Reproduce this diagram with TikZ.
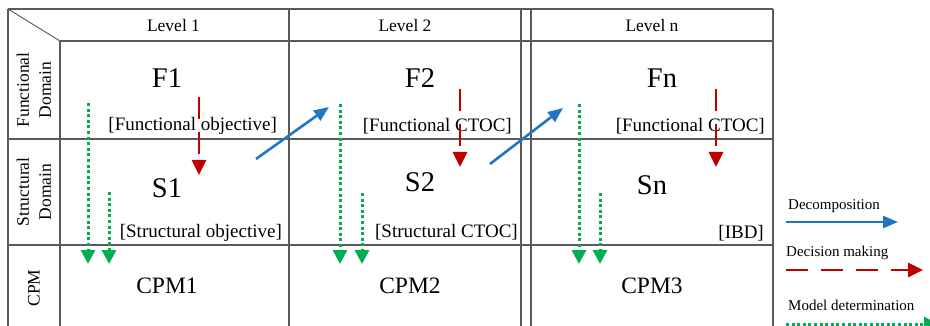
\documentclass[tikz,border=0pt]{standalone}
\usepackage{fontspec}
\setmainfont{Liberation Serif}
\usetikzlibrary{arrows.meta}
\definecolor{dblue}{HTML}{1F77C4}
\definecolor{dred}{HTML}{C00000}
\definecolor{dgreen}{HTML}{00B050}
\definecolor{gridc}{HTML}{5A5A5A}
\begin{document}
\begin{tikzpicture}[x=1pt,y=-1pt,
  gridline/.style={draw=gridc,line width=1.3pt},
  thinline/.style={draw=gridc,line width=0.9pt},
  lvl/.style={font=\fontsize{17.5}{20}\selectfont,anchor=base},
  side/.style={font=\fontsize{17.5}{22}\selectfont,rotate=90,align=center,inner sep=0pt},
  big/.style={font=\fontsize{28.5}{30}\selectfont,anchor=base},
  cpm/.style={font=\fontsize{23.5}{26}\selectfont,anchor=base},
  brk/.style={font=\fontsize{19}{22}\selectfont,anchor=base east,inner sep=0pt},
  leg/.style={font=\fontsize{15}{18}\selectfont,anchor=base west,inner sep=0pt},
  decomp/.style={draw=dblue,line width=2.6pt,-{Triangle[length=15pt,width=12pt]}},
  decis/.style={draw=dred,line width=2.6pt,dash pattern=on 22pt off 13pt,-{Triangle[length=15pt,width=14pt]}},
  modl/.style={draw=dgreen,line width=3pt,dash pattern=on 3pt off 2.6pt,-{Triangle[length=14pt,width=14pt]}}]
\useasboundingbox (0,0) rectangle (930,326);

% grid
\draw[gridline] (8,9) -- (773,9);
\draw[gridline] (60,41) -- (773,41);
\draw[gridline] (8,139) -- (773,139);
\draw[gridline] (8,245) -- (773,245);
\draw[gridline] (8,9) -- (8,330);
\draw[gridline] (60,41) -- (60,330);
\draw[gridline] (289,9) -- (289,330);
\draw[gridline] (521,9) -- (521,330);
\draw[gridline] (531,9) -- (531,330);
\draw[gridline] (773,9) -- (773,330);
\draw[thinline] (8,9) -- (60,41);

% headers
\node[lvl] (l1) at (173.5,32) {Level 1};
\node[lvl] (l2) at (405,32) {Level 2};
\node[lvl] (ln) at (652,32) {Level n};

\node[side] (fd) at (34,90) {Functional\\Domain};
\node[side] (sd) at (34,192) {Structural\\Domain};
\node[side] (cd) at (34,288) {CPM};

% cells
\node[big] (F1) at (167,88) {F1};
\node[big] (F2) at (420,88) {F2};
\node[big] (Fn) at (662,88) {Fn};
\node[big] (S1) at (167,198) {S1};
\node[big] (S2) at (420,192) {S2};
\node[big] (Sn) at (652,195) {Sn};
\node[cpm] (C1) at (167,293) {CPM1};
\node[cpm] (C2) at (410,293) {CPM2};
\node[cpm] (C3) at (652,293) {CPM3};

\node[brk] (fo) at (277,131) {[Functional objective]};
\node[brk] (fc2) at (512,132) {[Functional CTOC]};
\node[brk] (fcn) at (765,132) {[Functional CTOC]};
\node[brk] (so) at (282,237) {[Structural objective]};
\node[brk] (sc2) at (518,237) {[Structural CTOC]};
\node[brk] (ibd) at (764,238) {[IBD]};

% arrow end points
\coordinate (r1a) at (199,97);  \coordinate (r1b) at (199,175);
\coordinate (r2a) at (460,89);  \coordinate (r2b) at (460,167);
\coordinate (r3a) at (716,89);  \coordinate (r3b) at (716,167);

\coordinate (b1a) at (256,159); \coordinate (b1b) at (329,107);
\coordinate (b2a) at (490,164); \coordinate (b2b) at (563,108);

\coordinate (g1a) at (88,103);  \coordinate (g1b) at (88,264);
\coordinate (g2a) at (109,192); \coordinate (g2b) at (109,264);
\coordinate (g3a) at (340,104); \coordinate (g3b) at (340,264);
\coordinate (g4a) at (362,193); \coordinate (g4b) at (362,264);
\coordinate (g5a) at (579,104); \coordinate (g5b) at (579,264);
\coordinate (g6a) at (600,193); \coordinate (g6b) at (600,264);

\draw[decis] (r1a) -- (r1b);
\draw[decis] (r2a) -- (r2b);
\draw[decis] (r3a) -- (r3b);

\draw[decomp] (b1a) -- (b1b);
\draw[decomp] (b2a) -- (b2b);

\draw[modl] (g1a) -- (g1b);
\draw[modl] (g2a) -- (g2b);
\draw[modl] (g3a) -- (g3b);
\draw[modl] (g4a) -- (g4b);
\draw[modl] (g5a) -- (g5b);
\draw[modl] (g6a) -- (g6b);

% legend
\node[leg] (lg1) at (788,210) {Decomposition};
\node[leg] (lg2) at (786,257) {Decision making};
\node[leg] (lg3) at (788,310) {Model determination};
\coordinate (d1a) at (786,222); \coordinate (d1b) at (898,222);
\coordinate (d2a) at (786,270); \coordinate (d2b) at (923,270);
\coordinate (d3a) at (786,324); \coordinate (d3b) at (938,324);
\draw[decomp] (d1a) -- (d1b);
\draw[decis] (d2a) -- (d2b);
\draw[modl] (d3a) -- (d3b);
\end{tikzpicture}
\end{document}
